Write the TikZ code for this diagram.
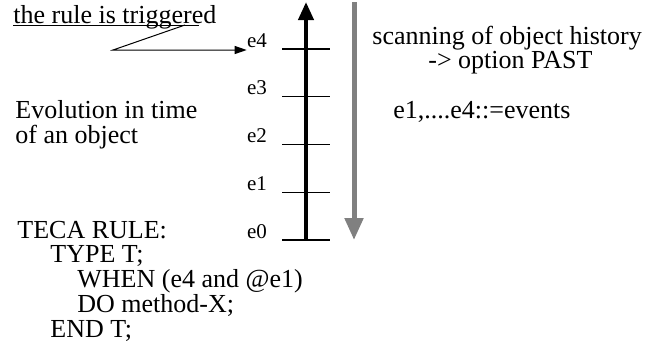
\documentclass[tikz,border=0pt]{standalone}
\usepackage{fontspec}
\setmainfont{Liberation Serif}
\usepackage{tikz}
\usetikzlibrary{arrows.meta, positioning, calc}
\definecolor{scangray}{RGB}{128, 128, 128}

\begin{document}
\begin{tikzpicture}[
			x=0.5pt, y=-0.5pt,
			txt/.style={anchor=base west, inner sep=0pt, font=\fontsize{13}{14}\selectfont},
			evlabel/.style={anchor=base, inner sep=0pt, font=\fontsize{10.5}{11}\selectfont},
			tickline/.style={line width=0.65pt},
			timeaxis/.style={line width=2pt, -{Triangle[length=9pt, width=7.5pt]}},
			scanarrow/.style={draw=scangray, line width=2.5pt, -{Triangle[length=11pt, width=9pt]}, color=scangray},
			pointer/.style={line width=0.5pt, -{Triangle[length=6pt, width=4pt]}}
		]
		\useasboundingbox (0,0) rectangle (646,360);
		
		% Events on the time axis
		\foreach \i in {0,...,4} {
			\coordinate (t\i) at (306, 240-47.75*\i);
			\draw[tickline] ([xshift=-12pt]t\i) -- ([xshift=12pt]t\i);
			\node[evlabel] (e\i) at (257, 238-47.75*\i) {e\i};
		}
		
		% Time axis and scanning arrow
		\coordinate (axistop) at (306, 2);
		\draw[timeaxis] (t0) -- (axistop);
		\coordinate (scantop) at (354, 2);
		\coordinate (scanend) at (354, 240);
		\draw[scanarrow] (scantop) -- (scanend);
		
		% Trigger note
		\node[txt] (trigger) at (13, 23) {the rule is triggered};
		\draw[line width=0.5pt] ([yshift=-1.2pt]trigger.base west) -- ([yshift=-1.2pt, xshift=-9pt]trigger.base east);
		\coordinate (ptstart) at (185, 25);
		\coordinate (ptbend) at (113, 50);
		\draw[pointer] (ptstart) -- (ptbend) -- (ptbend -| e4.west);
		
		% Side texts
		\node[txt] (scanning) at (372, 44) {scanning of object history};
		\node[txt] (pastopt) at (428, 68) {-> option PAST};
		\node[txt] (events) at (393, 118) {e1,....e4::=events};
		\node[txt] (evolution) at (15, 118) {Evolution in time};
		\node[txt] (anobject) at (15, 143) {of an object};
		
		% Rule text
		\node[txt] (tecarule) at (17, 238) {TECA RULE:};
		\node[txt] (typet) at (50, 262) {TYPE T;};
		\node[txt] (whenpart) at (77, 287) {WHEN (e4 and @e1)};
		\node[txt] (dopart) at (77, 312) {DO method-X;};
		\node[txt] (endt) at (50, 337) {END T;};
\end{tikzpicture}
\end{document}
